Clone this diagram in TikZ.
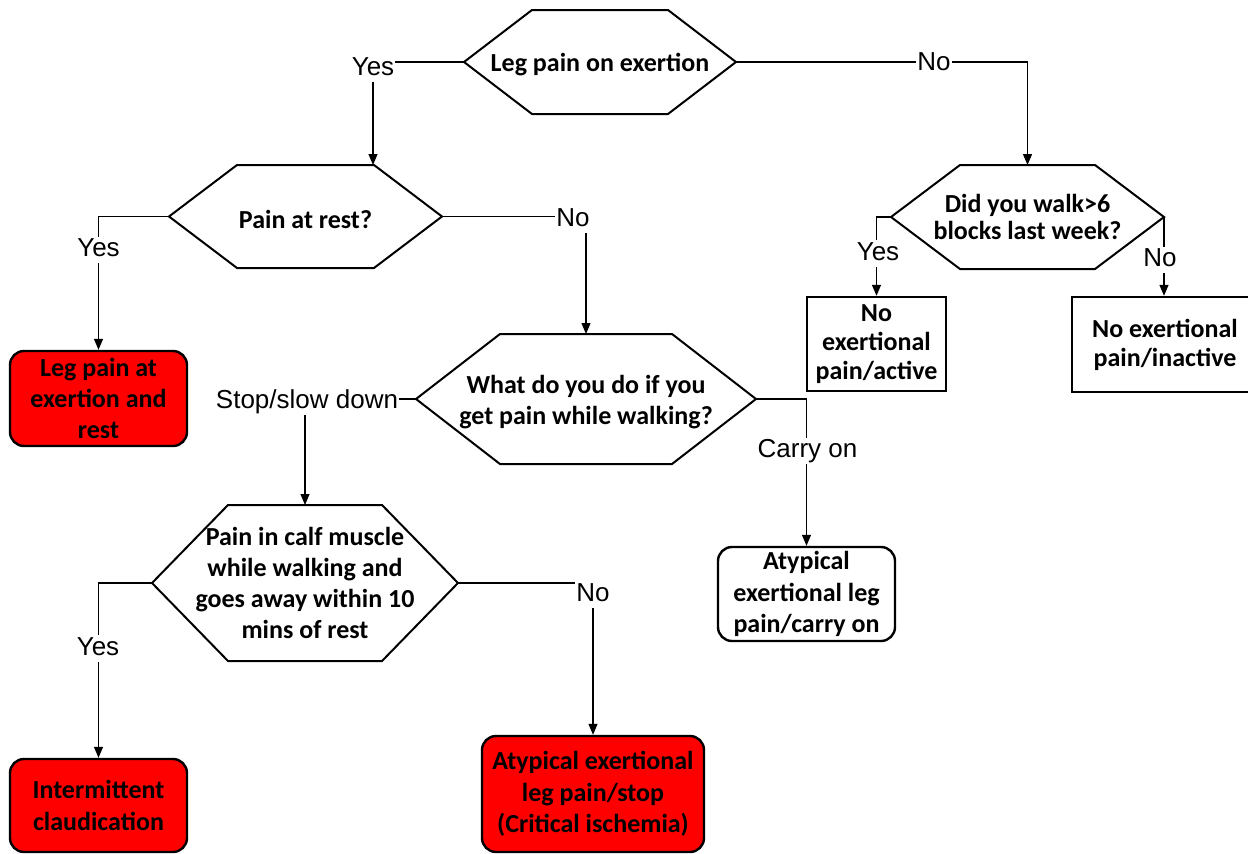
\documentclass[tikz,border=0pt]{standalone}
\usepackage{fontspec}
\setmainfont{Carlito}
\newfontfamily\labelfont{Liberation Sans}
\usetikzlibrary{arrows.meta}
\definecolor{boxred}{RGB}{255,0,0}
\newcommand\hexpath[2]{\draw[hexline] (#1.west) -- ([xshift=#2]#1.north west) -- ([xshift=-#2]#1.north east) -- (#1.east) -- ([xshift=-#2]#1.south east) -- ([xshift=#2]#1.south west) -- cycle;}
\tikzset{
  hexline/.style={line width=2pt, line join=miter},
  hextext/.style={inner sep=0pt, outer sep=0pt, align=center, font=\bfseries\fontsize{26}{31.3}\selectfont},
  boxbase/.style={draw, line width=2.4pt, align=center, inner sep=0pt, font=\bfseries\fontsize{26}{31.3}\selectfont},
  redbox/.style={boxbase, fill=boxred, rounded corners=14pt},
  roundbox/.style={boxbase, fill=white, rounded corners=14pt},
  sqbox/.style={boxbase, fill=white, font=\bfseries\fontsize{26}{29}\selectfont},
  lbl/.style={fill=white, inner sep=1pt, text height=19pt, text depth=5.5pt, font=\labelfont\fontsize{26}{30}\selectfont},
  conn/.style={line width=1.2pt},
  arr/.style={conn, -{Triangle[length=11pt,width=9pt]}},
}
\begin{document}
\begin{tikzpicture}[x=1pt,y=-1pt]
\useasboundingbox (0,0) rectangle (1248,854);

% hexagon frames
\node[hextext, minimum width=272pt, minimum height=104pt] (h1) at (600,62) {};
\node[hextext, minimum width=273pt, minimum height=103pt] (h2) at (305.5,216.5) {};
\node[hextext, minimum width=340pt, minimum height=130pt] (h3) at (586,399) {};
\node[hextext, minimum width=306pt, minimum height=156pt] (h4) at (305,583) {Pain in calf muscle\\while walking and\\goes away within 10\\mins of rest};
\node[hextext, minimum width=273pt, minimum height=104pt, font=\bfseries\fontsize{26}{27}\selectfont] (h5) at (1027.5,217) {Did you walk>6\\blocks last week?};
\hexpath{h1}{68}
\hexpath{h2}{68}
\hexpath{h3}{84}
\hexpath{h4}{76}
\hexpath{h5}{69}
% hexagon texts
\node[hextext] (t1) at (600,64.5) {Leg pain on exertion};
\node[hextext] (t2) at (305.5,219) {Pain at rest?};
\node[hextext] (t3) at (586,402) {What do you do if you\\get pain while walking?};

% result boxes
\node[redbox, minimum width=177pt, minimum height=95pt] (b1) at (98.5,398.5) {Leg pain at\\exertion and\\rest};
\node[redbox, minimum width=177pt, minimum height=93pt] (b2) at (98.5,805.5) {Intermittent\\claudication};
\node[redbox, minimum width=222pt, minimum height=116pt] (b3) at (593,794) {Atypical exertional\\leg pain/stop\\(Critical ischemia)};
\node[roundbox, minimum width=177pt, minimum height=94pt] (b4) at (806.5,594) {Atypical\\exertional leg\\pain/carry on};
\node[sqbox, minimum width=139pt, minimum height=94pt] (b5) at (876.5,344) {No\\exertional\\pain/active};
\node[sqbox, minimum width=186pt, minimum height=95pt] (b6) at (1165,344.5) {No exertional\\pain/inactive};

% connectors
\coordinate (c1) at (373,62);
\draw[conn] (h1.west) -- (c1);
\draw[arr] (c1) -- (c1 |- h2.north);
\draw[arr] (h1.east) -| (h5.north);
\draw[arr] (h2.west) -| (b1.north);
\draw[arr] (h2.east) -| (h3.north);
\draw[arr] (h3.west) -| (h4.north);
\draw[arr] (h3.east) -| (b4.north);
\draw[arr] (h4.west) -| (b2.north);
\draw[arr] (h4.east) -| (b3.north);
\draw[arr] (h5.west) -| (b5.north);
\draw[arr] (h5.east) -- (h5.east |- b6.north);

% labels
\node[lbl] (l1) at (373,68.5) {Yes};
\node[lbl] (l2) at (934,64) {No};
\node[lbl] (l3) at (98.5,250) {Yes};
\node[lbl] (l4) at (573,220) {No};
\node[lbl] (l5) at (307,401.5) {Stop/slow down};
\node[lbl] (l6) at (807.5,451) {Carry on};
\node[lbl] (l7) at (98,648.5) {Yes};
\node[lbl] (l8) at (593,595) {No};
\node[lbl] (l9) at (878,253.5) {Yes};
\node[lbl] (l10) at (1160,260) {No};
\end{tikzpicture}
\end{document}
